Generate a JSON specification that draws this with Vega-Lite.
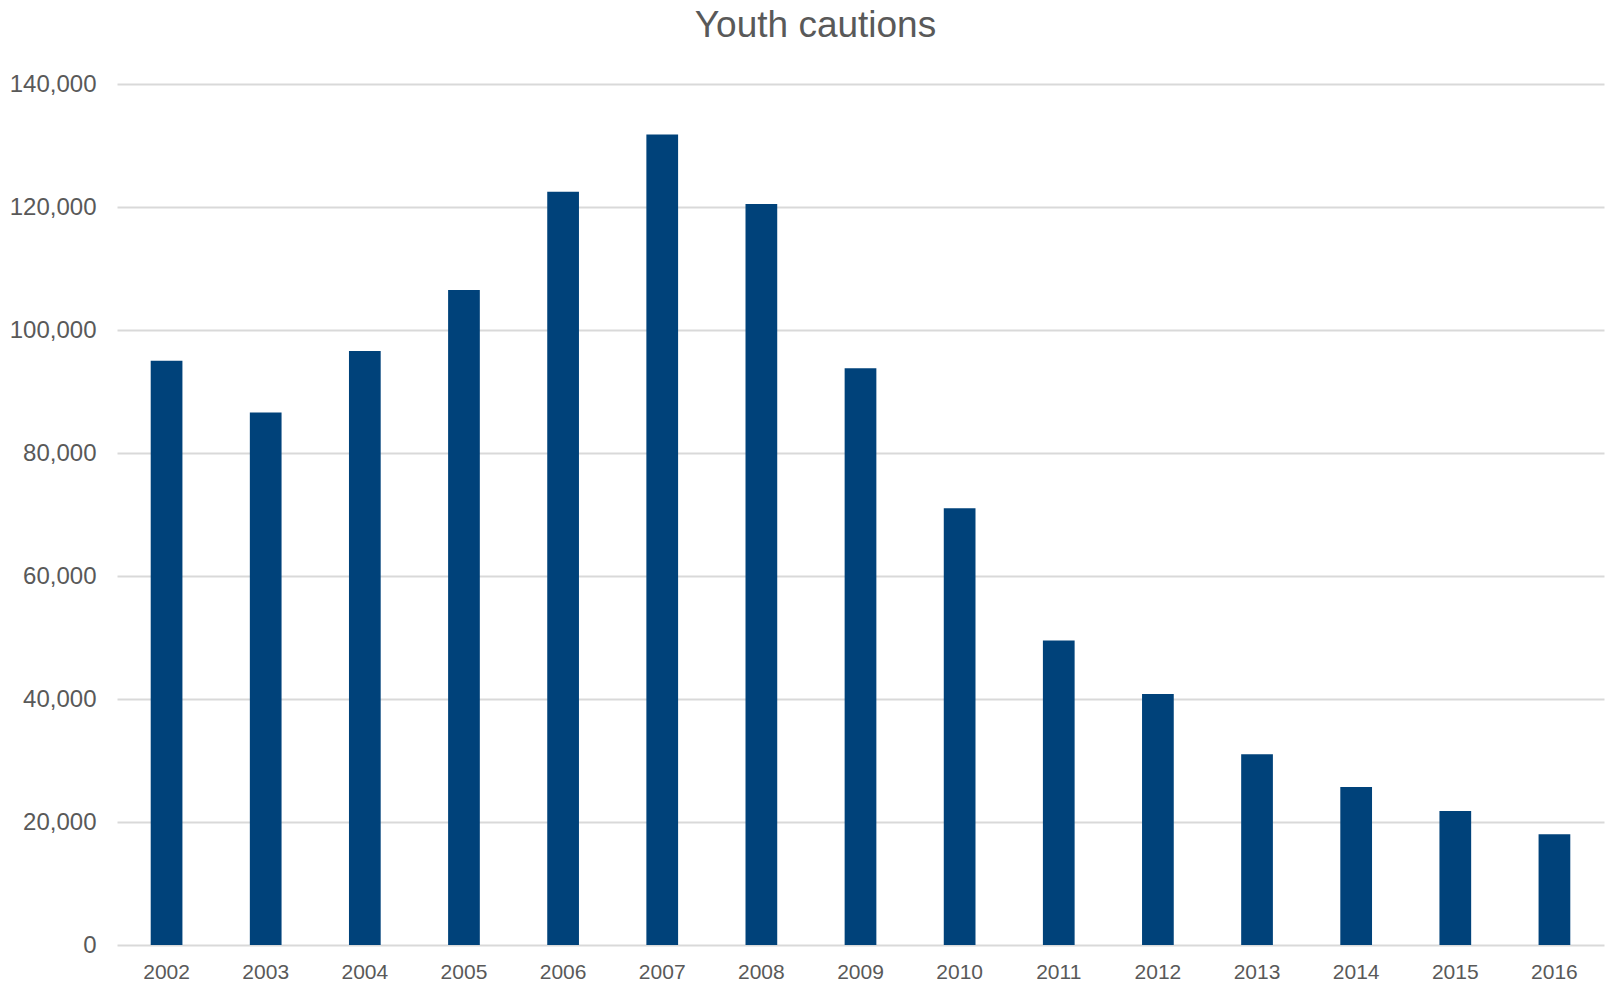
{
  "$schema": "https://vega.github.io/schema/vega-lite/v6.json",
  "width": 1487,
  "height": 861,
  "autosize": "none",
  "padding": {"left": 117, "top": 84, "right": 4, "bottom": 38},
  "background": "white",
  "title": {
    "text": "Youth cautions",
    "font": "Liberation Sans",
    "fontSize": 37,
    "fontWeight": "normal",
    "color": "#595959",
    "anchor": "middle",
    "dx": -45,
    "offset": 27
  },
  "data": {
    "values": [
      {"year": "2002", "cautions": 95000},
      {"year": "2003", "cautions": 86600},
      {"year": "2004", "cautions": 96600},
      {"year": "2005", "cautions": 106500},
      {"year": "2006", "cautions": 122500},
      {"year": "2007", "cautions": 131800},
      {"year": "2008", "cautions": 120500},
      {"year": "2009", "cautions": 93800},
      {"year": "2010", "cautions": 71000},
      {"year": "2011", "cautions": 49500},
      {"year": "2012", "cautions": 40800},
      {"year": "2013", "cautions": 31000},
      {"year": "2014", "cautions": 25700},
      {"year": "2015", "cautions": 21800},
      {"year": "2016", "cautions": 18000}
    ]
  },
  "mark": {"type": "bar", "color": "#00427A"},
  "encoding": {
    "x": {
      "field": "year",
      "type": "ordinal",
      "title": null,
      "scale": {"paddingInner": 0.68, "paddingOuter": 0.34},
      "axis": {
        "labelAngle": 0,
        "ticks": false,
        "domain": false,
        "labelPadding": 16,
        "labelFont": "Liberation Sans",
        "labelFontSize": 21,
        "labelColor": "#595959"
      }
    },
    "y": {
      "field": "cautions",
      "type": "quantitative",
      "title": null,
      "scale": {"domain": [0, 140000]},
      "axis": {
        "values": [0, 20000, 40000, 60000, 80000, 100000, 120000, 140000],
        "format": ",d",
        "ticks": false,
        "domain": false,
        "labelPadding": 21,
        "labelFont": "Liberation Sans",
        "labelFontSize": 24,
        "labelColor": "#595959",
        "gridColor": "#d9d9d9",
        "gridWidth": 2
      }
    }
  },
  "config": {"view": {"stroke": null}}
}
